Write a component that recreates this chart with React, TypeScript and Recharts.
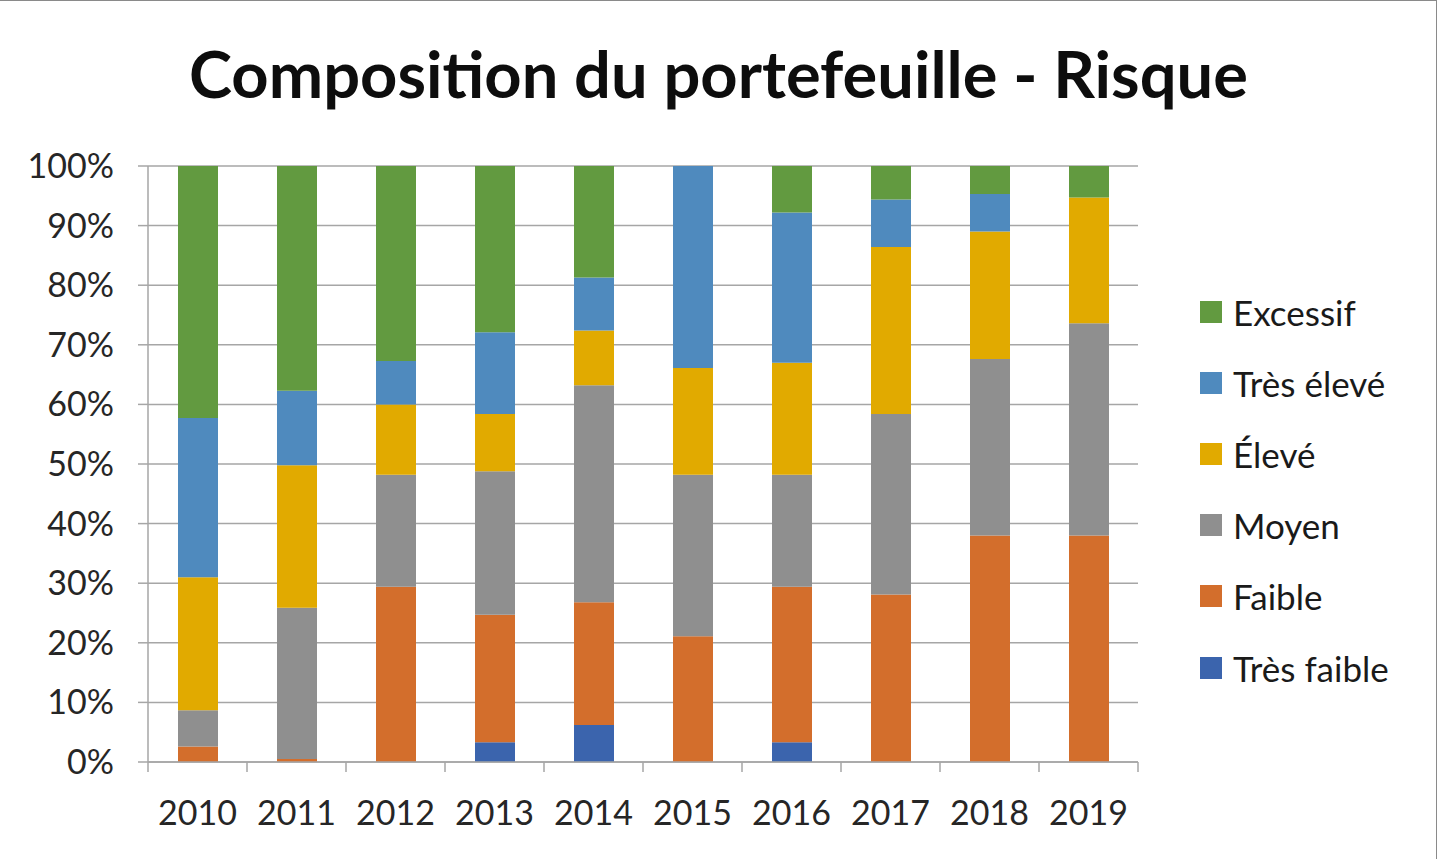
import React from 'react';
import { BarChart, Bar, XAxis, YAxis, CartesianGrid } from 'recharts';

const years = ['2010', '2011', '2012', '2013', '2014', '2015', '2016', '2017', '2018', '2019'];
const tresFaible = [0, 0, 0, 3.3, 6.2, 0, 3.3, 0, 0, 0];
const faible = [2.6, 0.5, 29.4, 21.4, 20.6, 21.1, 26.1, 28.1, 38.0, 38.0];
const moyen = [6.1, 25.4, 18.8, 24.1, 36.4, 27.1, 18.8, 30.3, 29.6, 35.6];
const eleve = [22.3, 23.9, 11.8, 9.6, 9.2, 17.9, 18.8, 28.0, 21.4, 21.1];
const tresEleve = [26.7, 12.5, 7.3, 13.7, 8.9, 33.9, 25.2, 8.0, 6.3, 0];
const excessif = [42.3, 37.7, 32.7, 27.9, 18.7, 0, 7.8, 5.6, 4.7, 5.3];
const yTicks = [0, 0.1, 0.2, 0.3, 0.4, 0.5, 0.6, 0.7, 0.8, 0.9, 1];

const series = [
  { key: 'tf', name: 'Très faible', color: '#3B64AD' },
  { key: 'f', name: 'Faible', color: '#D36E2C' },
  { key: 'm', name: 'Moyen', color: '#8F8F8F' },
  { key: 'e', name: 'Élevé', color: '#E1AA00' },
  { key: 'te', name: 'Très élevé', color: '#4F8ABE' },
  { key: 'ex', name: 'Excessif', color: '#629A40' },
];

const data = years.map((y, i) => ({
  year: y,
  tf: tresFaible[i],
  f: faible[i],
  m: moyen[i],
  e: eleve[i],
  te: tresEleve[i],
  ex: excessif[i],
}));

const FONT = 'Lato, "Open Sans", sans-serif';
const X_TICK_MARGIN = 32;
const X_TICK_LEN = 10;
const GRID = '#A6A6A6';

const XTick = (props: any) => {
  const { x, y, payload, index, visibleTicksCount } = props;
  const off = payload && payload.offset ? payload.offset : 0;
  const axisY = y - X_TICK_MARGIN;
  const isLast = index === (visibleTicksCount ?? years.length) - 1;
  return (
    <g>
      <line x1={x - off} x2={x - off} y1={axisY} y2={axisY + X_TICK_LEN} stroke={GRID} strokeWidth={1.5} />
      {isLast && (
        <line x1={x + off} x2={x + off} y1={axisY} y2={axisY + X_TICK_LEN} stroke={GRID} strokeWidth={1.5} />
      )}
      <text x={x} y={y + 7} dy="0.71em" textAnchor="middle" fontFamily={FONT} fontSize={34} fill="#262626">
        {payload.value}
      </text>
    </g>
  );
};

const LegendBox = () => (
  <div style={{ position: 'absolute', left: 1200, top: 275, width: 236, fontFamily: FONT }}>
    {[...series].reverse().map((s) => (
      <div key={s.key} style={{ display: 'flex', alignItems: 'center', height: 71.2 }}>
        <div style={{ width: 22, height: 22, background: s.color, marginRight: 11 }} />
        <span style={{ fontSize: 35, color: '#1a1a1a' }}>{s.name}</span>
      </div>
    ))}
  </div>
);

export default function App() {
  return (
    <div style={{ position: 'absolute', left: 0, top: 0, width: 1437, height: 859, background: '#fff', boxSizing: 'border-box', borderTop: '1px solid #8a8a8a', borderRight: '1px solid #8a8a8a' }}>
      <div style={{ position: 'absolute', left: 0, width: 1437, top: 27, textAlign: 'center', fontFamily: FONT, fontWeight: 700, fontSize: 65, color: '#0d0d0d', lineHeight: '90px', whiteSpace: 'nowrap' }}>
        Composition du portefeuille - Risque
      </div>
      <BarChart
        width={1437}
        height={858}
        data={data}
        stackOffset="expand"
        barSize={40}
        margin={{ top: 165, right: 299, left: 0, bottom: 0 }}
      >
        <CartesianGrid horizontal vertical={false} stroke={GRID} strokeWidth={1.5} />
        <XAxis
          dataKey="year"
          tickLine={false}
          tickSize={0}
          axisLine={{ stroke: GRID, strokeWidth: 1.5 }}
          tick={<XTick />}
          tickMargin={X_TICK_MARGIN}
          height={97}
          interval={0}
        />
        <YAxis
          domain={[0, 1]}
          ticks={yTicks}
          tickFormatter={(v: number) => `${Math.round(v * 100)}%`}
          tick={{ fontFamily: FONT, fontSize: 34, fill: '#262626' }}
          tickLine={{ stroke: GRID, strokeWidth: 1.5 }}
          tickSize={10}
          tickMargin={24}
          axisLine={{ stroke: GRID, strokeWidth: 1.5 }}
          width={148}
          interval={0}
        />
        {series.map((s) => (
          <Bar key={s.key} dataKey={s.key} name={s.name} stackId="s" fill={s.color} isAnimationActive={false} />
        ))}
      </BarChart>
      <LegendBox />
    </div>
  );
}
